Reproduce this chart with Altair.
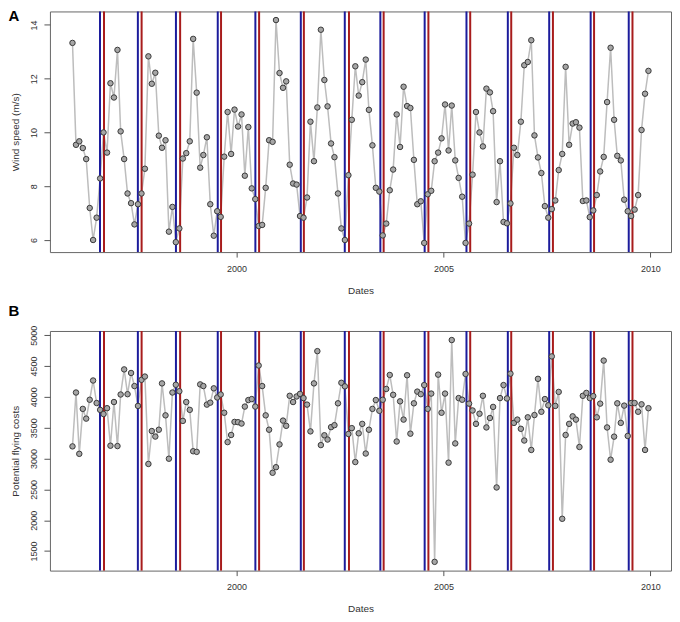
import altair as alt
import pandas as pd

# Monthly values, Jan 1996 - Dec 2009
wind = [
    13.33, 9.54, 9.67, 9.42, 9.01, 7.19, 6.00, 6.83, 8.29, 10.00, 9.25, 11.83,
    11.30, 13.07, 10.04, 9.01, 7.73, 7.37, 6.58, 7.33, 7.73, 8.65, 12.83, 11.81,
    12.22, 9.88, 9.43, 9.71, 6.31, 7.23, 5.92, 6.43, 9.03, 9.23, 9.67, 13.48,
    11.48, 8.69, 9.16, 9.82, 7.33, 6.16, 7.07, 6.86, 9.10, 10.76, 9.20, 10.85,
    10.22, 10.67, 8.39, 10.20, 7.92, 7.52, 6.52, 6.56, 7.94, 9.71, 9.65, 14.18,
    12.21, 11.66, 11.90, 8.80, 8.10, 8.06, 6.89, 6.83, 7.58, 10.40, 8.93, 10.93,
    13.82, 11.95, 10.97, 9.59, 9.08, 7.73, 6.43, 6.00, 8.41, 10.47, 12.46, 11.37,
    11.87, 12.71, 10.84, 9.52, 7.94, 7.80, 6.17, 6.61, 7.85, 8.62, 10.67, 9.46,
    11.70, 10.98, 10.91, 8.98, 7.33, 7.44, 5.89, 7.70, 7.83, 8.93, 9.25, 9.78,
    11.04, 9.33, 11.00, 8.96, 8.31, 7.61, 5.89, 6.61, 8.43, 10.76, 10.00, 9.48,
    11.63, 11.49, 10.79, 7.41, 8.93, 6.67, 6.62, 7.36, 9.43, 9.16, 10.40, 12.50,
    12.62, 13.43, 9.89, 9.07, 8.49, 7.26, 6.83, 7.15, 7.47, 8.60, 9.20, 12.44,
    9.54, 10.33, 10.38, 10.18, 7.45, 7.47, 6.85, 7.10, 7.67, 8.55, 9.09, 11.13,
    13.15, 10.47, 9.13, 8.96, 7.50, 7.07, 6.89, 7.13, 7.67, 10.09, 11.44, 12.29,
]

cost = [
    3197, 4070, 3076, 3805, 3647, 3953, 4265, 3900, 3789, 3721, 3816, 3208,
    3916, 3202, 4038, 4445, 4043, 4387, 4175, 3853, 4276, 4329, 2912, 3446,
    3356, 3467, 4218, 3700, 2997, 4070, 4196, 4091, 3610, 3916, 3789, 3118,
    3108, 4202, 4175, 3874, 3906, 4138, 3990, 4038, 3742, 3266, 3382, 3594,
    3589, 3567, 3842, 3948, 3964, 3842, 4508, 4175, 3700, 3467, 2769, 2859,
    3229, 3615, 3530, 4017, 3916, 4006, 4048, 3980, 3874, 3440, 4218, 4741,
    3218, 3377, 3308, 3509, 3541, 3895, 4228, 4170, 3398, 3493, 2943, 3409,
    3562, 3081, 3467, 3805, 3948, 3774, 3953, 4128, 4355, 4033, 3276, 3927,
    3631, 4350, 3403, 3895, 4085, 4043, 4191, 3805, 4053, 1325, 4360, 3742,
    4053, 2933, 4921, 3245, 3980, 3953, 4371, 3890, 3779, 3562, 3726, 4017,
    3504, 3657, 3837, 2531, 3980, 4191, 3974, 4376, 3578, 3631, 3482, 3292,
    3668, 3139, 3705, 4292, 3758, 3964, 3863, 4656, 3853, 4080, 2023, 3382,
    3562, 3684, 3631, 3187, 4017, 4064, 3980, 4012, 3668, 3890, 4588, 3504,
    2981, 3355, 3895, 3578, 3858, 3366, 3900, 3900, 3758, 3879, 3139, 3816,
]

blue_dates = ["1996-09-14", "1997-08-14", "1998-07-16", "1999-07-20", "2000-06-16",
              "2001-07-22", "2002-08-14", "2003-06-24", "2004-07-19", "2005-07-23",
              "2006-07-23", "2007-07-23", "2008-07-23", "2009-06-24"]
red_dates = ["1996-10-19", "1997-09-16", "1998-08-22", "1999-08-18", "2000-07-19",
             "2001-08-18", "2002-09-20", "2003-07-23", "2004-08-21", "2005-08-25",
             "2006-08-22", "2007-08-25", "2008-08-22", "2009-07-27"]

months = pd.date_range("1996-01-01", periods=len(wind), freq="MS") + pd.Timedelta(days=14)
df = pd.DataFrame({"date": months.strftime("%Y-%m-%d"), "wind": wind, "cost": cost})
vlines = pd.DataFrame({"date": blue_dates + red_dates,
                       "kind": ["blue"] * len(blue_dates) + ["red"] * len(red_dates)})

W = 622
HA = 241
HB = 240
FONT = "Liberation Sans"
TXT = "#333333"

xscale = alt.Scale(domain=[alt.DateTime(year=1995, month=6, date=30),
                           alt.DateTime(year=2010, month=7, date=2)])
xaxis = alt.Axis(values=[alt.DateTime(year=y, month=1, date=1) for y in (2000, 2005, 2010)],
                 format="%Y", title="Dates", grid=False, domain=False,
                 tickSize=5, tickColor="#555555", labelPadding=7, titlePadding=12,
                 labelFontSize=9, titleFontSize=10, labelColor=TXT, titleColor=TXT,
                 titleFontWeight="normal", labelFont=FONT, titleFont=FONT)
X = alt.X("date:T", scale=xscale, axis=xaxis)


def panel(field, ytitle, ydomain, yticks, letter, letter_y, h):
    yaxis = alt.Axis(values=yticks, title=ytitle, grid=False, domain=False, format="d",
                     labelAngle=270, tickSize=6, tickColor="#555555",
                     labelPadding=5, titlePadding=9, labelFontSize=9, titleFontSize=10,
                     labelColor=TXT, titleColor=TXT, titleFontWeight="normal",
                     labelFont=FONT, titleFont=FONT)
    Y = alt.Y(f"{field}:Q", scale=alt.Scale(domain=ydomain, nice=False, zero=False), axis=yaxis)
    base = alt.Chart(df)
    line = base.mark_line(color="#BDBDBD", strokeWidth=1.5).encode(x=X, y=Y)
    rules = alt.Chart(vlines).mark_rule(strokeWidth=2).encode(
        x=X,
        color=alt.Color("kind:N", scale=alt.Scale(domain=["blue", "red"],
                                                  range=["#1c1c9c", "#a81c1c"]), legend=None))
    pts = base.mark_circle(size=30, color="#A6A6A6", stroke="#3a3a3a",
                           strokeWidth=1, opacity=1).encode(x=X, y=Y)
    lab = alt.Chart(pd.DataFrame({"t": [letter]})).mark_text(
        font=FONT, fontSize=15, fontWeight="bold", color="#000000",
        align="center", baseline="middle").encode(
        text="t:N", x=alt.value(-36), y=alt.value(letter_y))
    return alt.layer(line, rules, pts, lab).properties(width=W, height=h)


a = panel("wind", "Wind speed (m/s)", [5.55, 14.5], [6, 8, 10, 12, 14], "A", 5, HA)
b = panel("cost", "Potential flying costs", [1183, 5068],
          [1500, 2000, 2500, 3000, 3500, 4000, 4500, 5000], "B", -20, HB)

chart = alt.vconcat(a, b, spacing=79, bounds="flush").properties(
    padding=0, background="white"
).configure_view(stroke="#666666", strokeWidth=1)

chart.save("out.html", embed_options={"renderer": "svg", "actions": False})
